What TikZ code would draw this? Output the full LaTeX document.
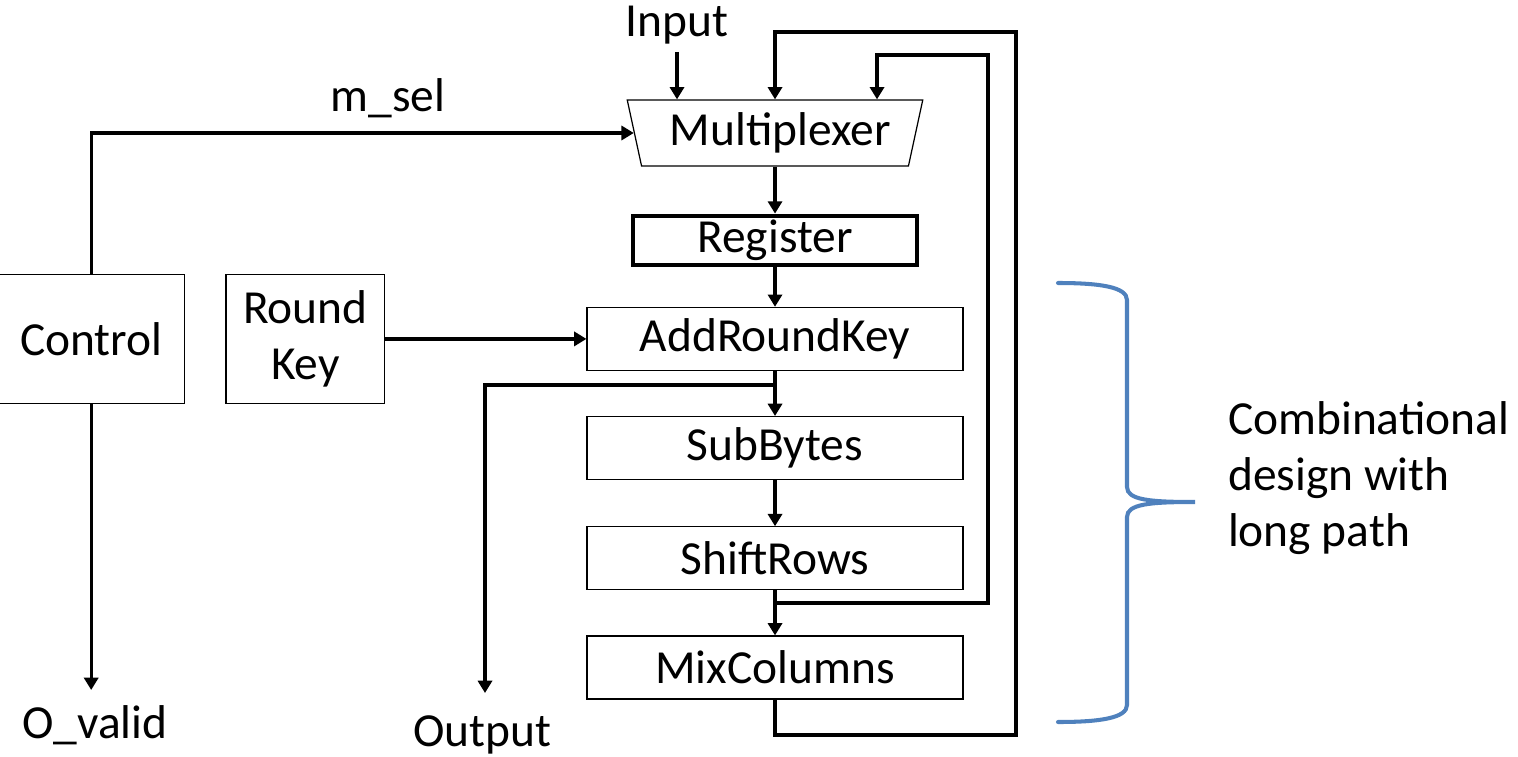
\documentclass[tikz,border=0pt]{standalone}
\usepackage{fontspec}
\setmainfont{Carlito}
\usepackage{tikz}
\usetikzlibrary{calc,positioning,arrows.meta,shapes.geometric}
\definecolor{braceblue}{RGB}{79,129,189}
\tikzset{
  line/.style  = {-{Triangle[length=7pt,width=8pt]}, line width=1.9pt},
  box/.style   = {draw, line width=0.7pt, align=center, inner sep=2pt},
  stage/.style = {box, minimum width=7.52cm, minimum height=1.26cm},
  sidebox/.style = {box, minimum height=2.58cm},
  regbox/.style  = {draw, line width=2.4pt, minimum width=5.68cm, minimum height=0.98cm, inner sep=0pt},
  muxbox/.style  = {draw, line width=0.7pt, trapezium, trapezium left angle=104,
                    trapezium right angle=104, trapezium stretches=true,
                    minimum width=5.92cm, minimum height=1.32cm},
  lbl/.style   = {inner sep=1pt},
}

\begin{document}
\begin{tikzpicture}[x=0.02cm, y=-0.02cm, node distance=0.9cm,
    font=\fontsize{27}{32}\selectfont]
  \useasboundingbox (0,0) rectangle (1518,757);
  % datapath column
  \node[muxbox] (mux) at (775,133) {\hspace*{6pt}Multiplexer};
  \node[regbox, below=0.94cm of mux] (reg) {Register};
  \node[stage, below=0.8cm of reg] (ark) {AddRoundKey};
  \node[stage, below=of ark] (sb) {SubBytes};
  \node[stage, below=0.92cm of sb] (sr) {ShiftRows};
  \node[stage, below=of sr] (mc) {MixColumns};
  % side blocks
  \node[sidebox, minimum width=3.18cm, left=4.02cm of ark] (rk) {Round\\Key};
  \node[sidebox, minimum width=3.74cm, left=0.8cm of rk] (ctl) {Control};
  % labels
  \node[lbl] (inlbl) at (677,25) {Input};
  \node[lbl] (msel) at (388,98) {m\_sel};
  \node[lbl] (vlbl) at (95,725) {O\_valid};
  \node[lbl] (outlbl) at (482,735) {Output};
  \node[lbl, anchor=west, align=left] (note) at (1226,478)
    {Combinational\\design with\\long path};
  % taps and turning points
  \coordinate (tapO) at (775,385);
  \coordinate (tapS) at (775,603);
  \coordinate (outEnd) at (485,693);
  \coordinate (validEnd) at (95,690);
  \coordinate (loopA) at (1016,735);
  \coordinate (loopB) at (1016,32);
  \coordinate (innerT) at (988,55);
  % main flow
  \draw[line] (inlbl.south |- 0,52) -- (inlbl.south |- mux.north);
  \draw[line] (mux.south) -- (reg.north);
  \draw[line] (reg.south) -- (ark.north);
  \draw[line] (ark.south) -- (sb.north);
  \draw[line] (sb.south) -- (sr.north);
  \draw[line] (sr.south) -- (mc.north);
  \draw[line] (rk.east) -- (ark.west);
  \draw[line] (ctl.north) |- (mux.west);
  \draw[line] (ctl.south) -- (ctl.south |- validEnd);
  \draw[line] (tapO) -| (outEnd);
  % feedback loops
  \draw[line] (mc.south) |- (loopA) -- (loopB) -| (mux.north);
  \draw[line] (tapS) -| (innerT) -| ($(mux.north)+(102,0)$);
  % brace
  \draw[braceblue, line width=2.3pt, line cap=round]
    (1058,283) .. controls (1100,283) and (1127,287) .. (1127,300)
    -- (1127,487) .. controls (1127,500) and (1150,502) .. (1195,502)
    .. controls (1150,502) and (1127,504) .. (1127,517)
    -- (1127,705) .. controls (1127,718) and (1100,722) .. (1058,722);
\end{tikzpicture}
\end{document}
